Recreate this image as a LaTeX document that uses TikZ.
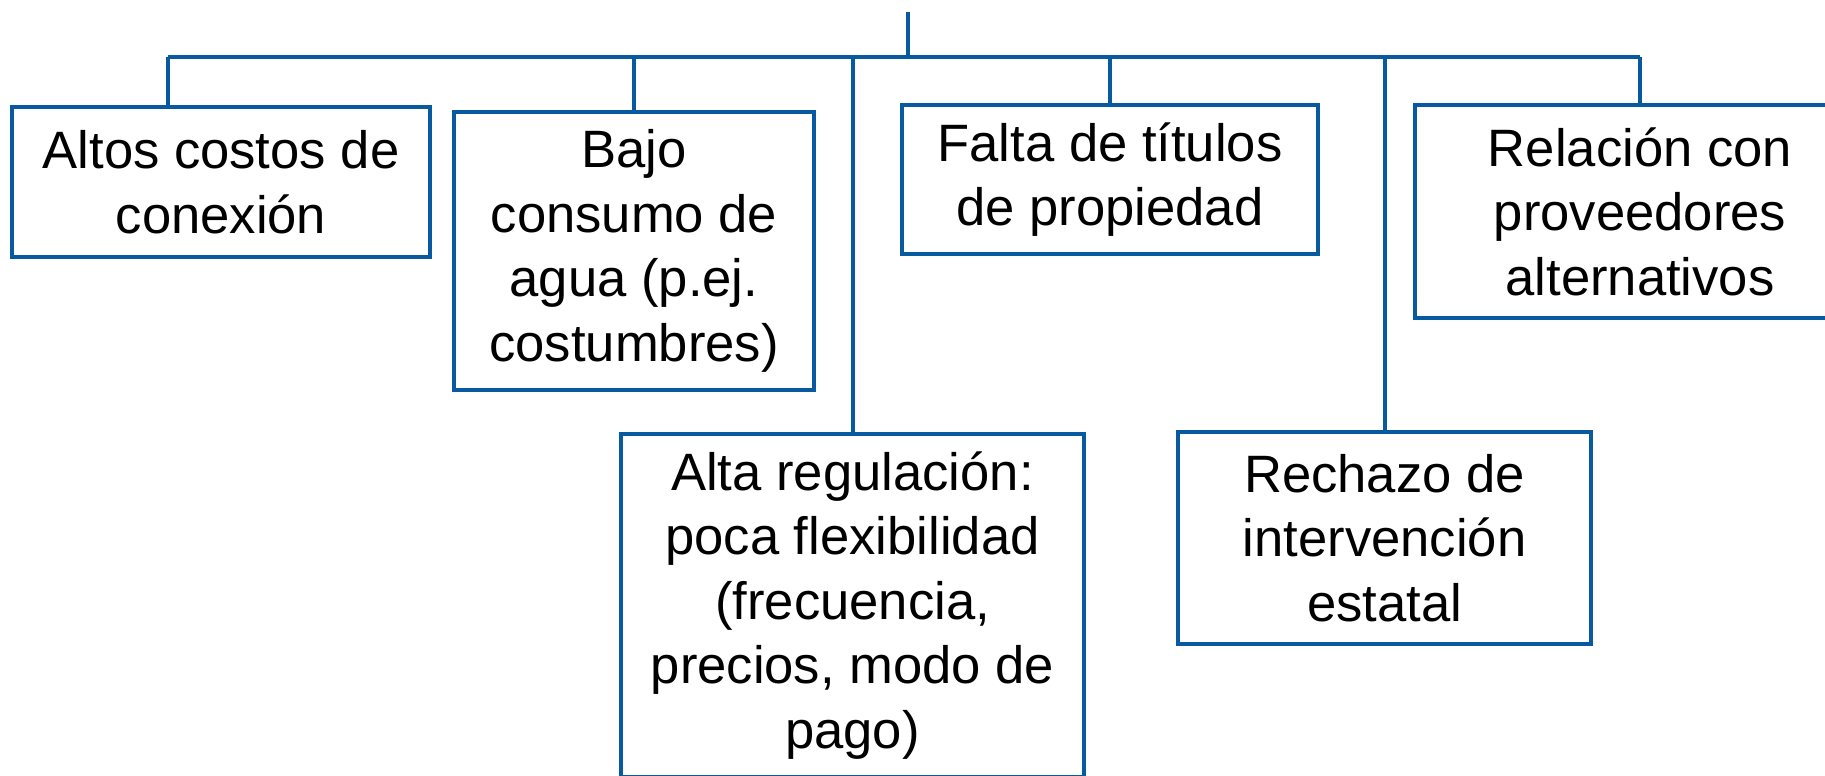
\documentclass[tikz,border=0pt]{standalone}
\usepackage{fontspec}
\setmainfont{Liberation Sans}
\definecolor{boxblue}{RGB}{8,90,160}
\begin{document}
\begin{tikzpicture}[x=0.5pt,y=-0.5pt,
  cbox/.style={draw=boxblue, line width=2.4pt, rectangle, align=center, inner sep=0pt,
    font=\fontsize{26.3}{32.25}\selectfont, text=black},
  link/.style={draw=boxblue, line width=2pt}]
\useasboundingbox (0,0) rectangle (1825,776);
\fill[white] (0,0) rectangle (1825,776);
\node[cbox, minimum width=209pt, minimum height=75pt] (altos) at (221,182) {Altos costos de\\conexión};
\node[cbox, minimum width=180pt, minimum height=139pt] (bajo) at (634,251) {Bajo\\consumo de\\agua (p.ej.\\costumbres)};
\node[cbox, minimum width=231.5pt, minimum height=171.5pt] (alta) at (852.5,605.5) {Alta regulación:\\poca flexibilidad\\(frecuencia,\\precios, modo de\\pago)};
\node[cbox, minimum width=208pt, minimum height=74.5pt] (falta) at (1110,179.5) {Falta de títulos\\de propiedad};
\node[cbox, minimum width=206.5pt, minimum height=106pt] (rechazo) at (1384.5,538) {Rechazo de\\intervención\\estatal};
\node[cbox, minimum width=225pt, minimum height=106.5pt] (relacion) at (1640,211.5) {Relación con\\proveedores\\alternativos};
\coordinate (top) at (908,12);
\coordinate (junction) at (908,57);
\coordinate (barL) at (168,57);
\coordinate (barR) at (1640,57);
\draw[link] (top) -- (junction);
\draw[link] (barL) -- (barR);
\draw[link] (barL) -- (barL |- altos.north);
\draw[link] (bajo.north |- barL) -- (bajo.north);
\draw[link] (alta.north |- barL) -- (alta.north);
\draw[link] (falta.north |- barL) -- (falta.north);
\draw[link] (rechazo.north |- barL) -- (rechazo.north);
\draw[link] (relacion.north |- barL) -- (relacion.north);
\end{tikzpicture}
\end{document}
